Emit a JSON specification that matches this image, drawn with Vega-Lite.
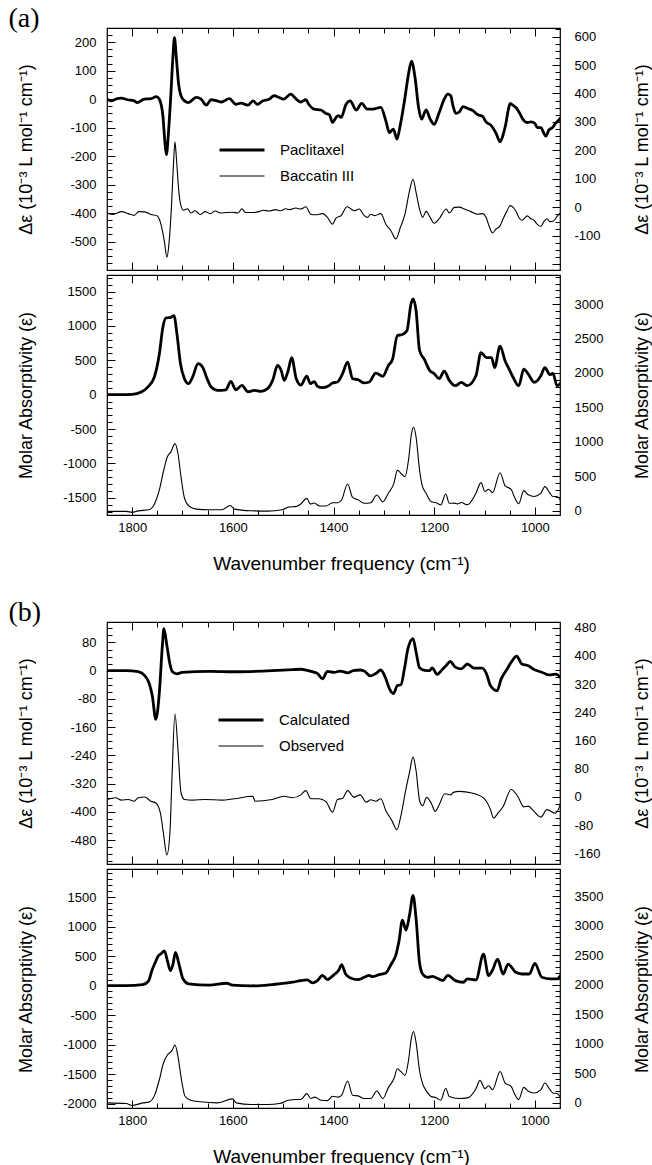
{
"$schema": "https://vega.github.io/schema/vega-lite/v6.json",
"background": "white",
"padding": {"left": 8, "top": 4, "right": 2, "bottom": 0},
"config": {
  "view": {"stroke": "black", "strokeWidth": 1.2},
  "axis": {"domain": false, "grid": false, "labelFont": "Liberation Sans", "labelFontSize": 13, "labelColor": "black", "tickColor": "black", "tickWidth": 1, "titleFont": "Liberation Sans", "titleFontSize": 18, "titleFontWeight": "normal", "titleColor": "black", "labelOverlap": false, "labelFlush": false, "minExtent": 0},
  "legend": {"labelFont": "Liberation Sans", "labelFontSize": 15, "labelColor": "black"}
},
"datasets": {
"aTopThick": [{"x":1850,"y":0},{"x":1842,"y":-6},{"x":1830,"y":2},{"x":1822,"y":4},{"x":1809,"y":-2},{"x":1796,"y":-6},{"x":1790,"y":-12},{"x":1776,"y":0},{"x":1762,"y":2},{"x":1752,"y":9},{"x":1746,"y":0},{"x":1739,"y":-58},{"x":1735,"y":-150},{"x":1732,"y":-195},{"x":1728,"y":-120},{"x":1723,"y":20},{"x":1719,"y":150},{"x":1716,"y":216},{"x":1712,"y":140},{"x":1708,"y":58},{"x":1703,"y":12},{"x":1696,"y":-6},{"x":1688,"y":-12},{"x":1673,"y":6},{"x":1663,"y":0},{"x":1653,"y":-21},{"x":1643,"y":-2},{"x":1633,"y":-5},{"x":1623,"y":-10},{"x":1607,"y":2},{"x":1594,"y":-18},{"x":1584,"y":-14},{"x":1570,"y":-21},{"x":1560,"y":-6},{"x":1551,"y":-18},{"x":1541,"y":-6},{"x":1528,"y":0},{"x":1518,"y":12},{"x":1508,"y":6},{"x":1499,"y":0},{"x":1485,"y":18},{"x":1474,"y":0},{"x":1465,"y":-10},{"x":1455,"y":-2},{"x":1449,"y":-18},{"x":1439,"y":-35},{"x":1425,"y":-38},{"x":1415,"y":-50},{"x":1408,"y":-55},{"x":1402,"y":-82},{"x":1395,"y":-64},{"x":1390,"y":-58},{"x":1385,"y":-64},{"x":1375,"y":-18},{"x":1367,"y":-6},{"x":1355,"y":-38},{"x":1344,"y":-15},{"x":1333,"y":-35},{"x":1322,"y":-35},{"x":1306,"y":-29},{"x":1296,"y":-76},{"x":1289,"y":-117},{"x":1281,"y":-105},{"x":1274,"y":-140},{"x":1267,"y":-88},{"x":1259,"y":-6},{"x":1251,"y":88},{"x":1245,"y":134},{"x":1238,"y":76},{"x":1231,"y":-29},{"x":1225,"y":-70},{"x":1216,"y":-38},{"x":1208,"y":-70},{"x":1200,"y":-88},{"x":1190,"y":-47},{"x":1180,"y":0},{"x":1173,"y":18},{"x":1167,"y":12},{"x":1163,"y":-20},{"x":1157,"y":-50},{"x":1150,"y":-45},{"x":1143,"y":-26},{"x":1133,"y":-33},{"x":1123,"y":-40},{"x":1113,"y":-55},{"x":1104,"y":-60},{"x":1097,"y":-80},{"x":1087,"y":-92},{"x":1077,"y":-120},{"x":1069,"y":-150},{"x":1063,"y":-125},{"x":1058,"y":-90},{"x":1053,"y":-40},{"x":1049,"y":-15},{"x":1043,"y":-22},{"x":1036,"y":-32},{"x":1030,"y":-50},{"x":1022,"y":-75},{"x":1015,"y":-82},{"x":1008,"y":-80},{"x":1000,"y":-85},{"x":995,"y":-100},{"x":988,"y":-100},{"x":982,"y":-120},{"x":978,"y":-130},{"x":972,"y":-108},{"x":965,"y":-100},{"x":959,"y":-85},{"x":953,"y":-75},{"x":947,"y":-62}],
"aTopThin": [{"x":1850,"y":-20},{"x":1838,"y":-25},{"x":1821,"y":-15},{"x":1808,"y":-22},{"x":1796,"y":-28},{"x":1787,"y":-15},{"x":1775,"y":-16},{"x":1763,"y":-25},{"x":1750,"y":-30},{"x":1742,"y":-65},{"x":1736,"y":-120},{"x":1731,"y":-175},{"x":1727,"y":-130},{"x":1722,"y":0},{"x":1718,"y":150},{"x":1715,"y":230},{"x":1712,"y":170},{"x":1707,"y":50},{"x":1703,"y":5},{"x":1698,"y":-10},{"x":1690,"y":-5},{"x":1683,"y":-20},{"x":1675,"y":-12},{"x":1665,"y":-25},{"x":1655,"y":-15},{"x":1645,"y":-22},{"x":1635,"y":-13},{"x":1625,"y":-20},{"x":1612,"y":-18},{"x":1600,"y":-17},{"x":1590,"y":-20},{"x":1582,"y":-5},{"x":1575,"y":-18},{"x":1560,"y":-18},{"x":1548,"y":-15},{"x":1540,"y":-10},{"x":1528,"y":-13},{"x":1515,"y":-8},{"x":1505,"y":-12},{"x":1495,"y":-5},{"x":1487,"y":-8},{"x":1475,"y":-2},{"x":1465,"y":-6},{"x":1455,"y":2},{"x":1445,"y":-24},{"x":1435,"y":-26},{"x":1422,"y":-22},{"x":1412,"y":-35},{"x":1402,"y":-59},{"x":1395,"y":-38},{"x":1385,"y":-29},{"x":1373,"y":2},{"x":1365,"y":-6},{"x":1359,"y":-12},{"x":1349,"y":-6},{"x":1339,"y":-29},{"x":1332,"y":-35},{"x":1326,"y":-24},{"x":1318,"y":-29},{"x":1306,"y":-22},{"x":1296,"y":-59},{"x":1286,"y":-82},{"x":1276,"y":-111},{"x":1267,"y":-70},{"x":1258,"y":-24},{"x":1249,"y":58},{"x":1242,"y":99},{"x":1236,"y":53},{"x":1229,"y":-6},{"x":1223,"y":-35},{"x":1216,"y":-14},{"x":1208,"y":-35},{"x":1200,"y":-56},{"x":1190,"y":-40},{"x":1176,"y":-6},{"x":1170,"y":-20},{"x":1160,"y":0},{"x":1150,"y":1},{"x":1140,"y":-6},{"x":1127,"y":-15},{"x":1113,"y":-24},{"x":1104,"y":-22},{"x":1097,"y":-35},{"x":1090,"y":-70},{"x":1084,"y":-90},{"x":1077,"y":-76},{"x":1069,"y":-65},{"x":1063,"y":-40},{"x":1056,"y":-15},{"x":1049,"y":6},{"x":1043,"y":0},{"x":1038,"y":-12},{"x":1030,"y":-40},{"x":1025,"y":-45},{"x":1019,"y":-35},{"x":1015,"y":-30},{"x":1008,"y":-40},{"x":1002,"y":-45},{"x":995,"y":-60},{"x":988,"y":-67},{"x":982,"y":-50},{"x":976,"y":-40},{"x":970,"y":-50},{"x":963,"y":-48},{"x":955,"y":-30},{"x":947,"y":-15}],
"aBotThick": [{"x":1850,"y":0},{"x":1822,"y":0},{"x":1800,"y":3},{"x":1782,"y":38},{"x":1769,"y":110},{"x":1756,"y":255},{"x":1746,"y":590},{"x":1739,"y":980},{"x":1733,"y":1115},{"x":1723,"y":1125},{"x":1717,"y":1150},{"x":1711,"y":880},{"x":1704,"y":450},{"x":1696,"y":230},{"x":1688,"y":160},{"x":1680,"y":255},{"x":1669,"y":450},{"x":1660,"y":400},{"x":1651,"y":230},{"x":1643,"y":110},{"x":1630,"y":62},{"x":1614,"y":70},{"x":1604,"y":193},{"x":1594,"y":70},{"x":1582,"y":135},{"x":1570,"y":42},{"x":1557,"y":62},{"x":1544,"y":48},{"x":1531,"y":87},{"x":1521,"y":207},{"x":1511,"y":425},{"x":1504,"y":352},{"x":1498,"y":207},{"x":1490,"y":352},{"x":1483,"y":537},{"x":1474,"y":230},{"x":1465,"y":140},{"x":1453,"y":270},{"x":1446,"y":160},{"x":1438,"y":190},{"x":1432,"y":121},{"x":1422,"y":101},{"x":1408,"y":135},{"x":1402,"y":170},{"x":1392,"y":184},{"x":1382,"y":305},{"x":1372,"y":474},{"x":1362,"y":232},{"x":1351,"y":217},{"x":1339,"y":170},{"x":1329,"y":184},{"x":1316,"y":314},{"x":1302,"y":266},{"x":1291,"y":425},{"x":1283,"y":507},{"x":1273,"y":860},{"x":1263,"y":875},{"x":1254,"y":933},{"x":1246,"y":1320},{"x":1242,"y":1392},{"x":1236,"y":1223},{"x":1229,"y":642},{"x":1219,"y":507},{"x":1209,"y":353},{"x":1200,"y":305},{"x":1190,"y":232},{"x":1180,"y":343},{"x":1170,"y":207},{"x":1158,"y":130},{"x":1146,"y":178},{"x":1134,"y":130},{"x":1117,"y":274},{"x":1107,"y":611},{"x":1096,"y":539},{"x":1086,"y":539},{"x":1080,"y":394},{"x":1069,"y":707},{"x":1059,"y":490},{"x":1051,"y":370},{"x":1043,"y":250},{"x":1032,"y":130},{"x":1022,"y":370},{"x":1013,"y":298},{"x":1001,"y":178},{"x":988,"y":274},{"x":980,"y":394},{"x":970,"y":290},{"x":964,"y":310},{"x":956,"y":130},{"x":947,"y":178}],
"aBotThin": [{"x":1850,"y":-13},{"x":1812,"y":-13},{"x":1800,"y":-27},{"x":1788,"y":-5},{"x":1767,"y":11},{"x":1755,"y":107},{"x":1746,"y":300},{"x":1738,"y":564},{"x":1730,"y":781},{"x":1723,"y":853},{"x":1715,"y":973},{"x":1709,"y":829},{"x":1703,"y":492},{"x":1696,"y":179},{"x":1686,"y":59},{"x":1672,"y":21},{"x":1647,"y":11},{"x":1622,"y":11},{"x":1605,"y":74},{"x":1597,"y":21},{"x":1564,"y":-3},{"x":1531,"y":-8},{"x":1502,"y":11},{"x":1490,"y":50},{"x":1473,"y":60},{"x":1465,"y":95},{"x":1453,"y":177},{"x":1446,"y":95},{"x":1438,"y":110},{"x":1428,"y":66},{"x":1415,"y":65},{"x":1402,"y":114},{"x":1391,"y":114},{"x":1384,"y":153},{"x":1372,"y":385},{"x":1362,"y":191},{"x":1351,"y":155},{"x":1339,"y":105},{"x":1326,"y":114},{"x":1314,"y":225},{"x":1302,"y":125},{"x":1291,"y":250},{"x":1280,"y":395},{"x":1273,"y":588},{"x":1266,"y":540},{"x":1258,"y":491},{"x":1251,"y":733},{"x":1245,"y":1120},{"x":1241,"y":1215},{"x":1236,"y":1072},{"x":1229,"y":588},{"x":1224,"y":370},{"x":1216,"y":250},{"x":1206,"y":129},{"x":1196,"y":114},{"x":1187,"y":80},{"x":1177,"y":240},{"x":1170,"y":105},{"x":1160,"y":107},{"x":1154,"y":95},{"x":1146,"y":117},{"x":1134,"y":83},{"x":1117,"y":252},{"x":1107,"y":406},{"x":1099,"y":276},{"x":1092,"y":309},{"x":1084,"y":261},{"x":1069,"y":550},{"x":1059,"y":357},{"x":1047,"y":309},{"x":1041,"y":204},{"x":1032,"y":98},{"x":1022,"y":290},{"x":1013,"y":228},{"x":1001,"y":204},{"x":988,"y":252},{"x":980,"y":348},{"x":970,"y":252},{"x":964,"y":204},{"x":956,"y":204},{"x":947,"y":117}],
"bTopThick": [{"x":1850,"y":0},{"x":1812,"y":0},{"x":1788,"y":-3},{"x":1775,"y":-14},{"x":1767,"y":-33},{"x":1760,"y":-71},{"x":1753,"y":-138},{"x":1746,"y":-62},{"x":1740,"y":71},{"x":1737,"y":119},{"x":1731,"y":71},{"x":1725,"y":19},{"x":1720,"y":-3},{"x":1711,"y":-9},{"x":1701,"y":-5},{"x":1647,"y":-2},{"x":1597,"y":-3},{"x":1522,"y":0},{"x":1481,"y":3},{"x":1465,"y":4},{"x":1452,"y":1},{"x":1439,"y":-4},{"x":1431,"y":-9},{"x":1422,"y":-23},{"x":1412,"y":-2},{"x":1399,"y":-5},{"x":1387,"y":-1},{"x":1372,"y":-6},{"x":1361,"y":0},{"x":1347,"y":2},{"x":1338,"y":-2},{"x":1327,"y":-15},{"x":1316,"y":-8},{"x":1306,"y":2},{"x":1296,"y":-23},{"x":1289,"y":-51},{"x":1281,"y":-65},{"x":1273,"y":-42},{"x":1266,"y":-40},{"x":1259,"y":6},{"x":1252,"y":63},{"x":1242,"y":91},{"x":1236,"y":53},{"x":1229,"y":8},{"x":1219,"y":1},{"x":1209,"y":0},{"x":1204,"y":8},{"x":1194,"y":-11},{"x":1186,"y":0},{"x":1176,"y":15},{"x":1168,"y":26},{"x":1158,"y":10},{"x":1146,"y":5},{"x":1134,"y":19},{"x":1121,"y":7},{"x":1105,"y":7},{"x":1096,"y":-9},{"x":1088,"y":-43},{"x":1075,"y":-57},{"x":1067,"y":-24},{"x":1055,"y":5},{"x":1047,"y":24},{"x":1036,"y":41},{"x":1026,"y":19},{"x":1013,"y":14},{"x":1001,"y":3},{"x":985,"y":-5},{"x":972,"y":-12},{"x":959,"y":-10},{"x":947,"y":-22}],
"bTopThin": [{"x":1850,"y":-7},{"x":1833,"y":-2},{"x":1821,"y":-9},{"x":1808,"y":-7},{"x":1796,"y":-12},{"x":1788,"y":-2},{"x":1775,"y":0},{"x":1763,"y":-12},{"x":1753,"y":-17},{"x":1744,"y":-45},{"x":1738,"y":-102},{"x":1731,"y":-164},{"x":1725,"y":-102},{"x":1721,"y":50},{"x":1715,"y":235},{"x":1709,"y":135},{"x":1703,"y":12},{"x":1696,"y":-7},{"x":1680,"y":-9},{"x":1655,"y":-7},{"x":1622,"y":-9},{"x":1597,"y":-5},{"x":1560,"y":2},{"x":1556,"y":-12},{"x":1522,"y":-7},{"x":1498,"y":2},{"x":1481,"y":-2},{"x":1465,"y":6},{"x":1455,"y":18},{"x":1445,"y":-5},{"x":1429,"y":-5},{"x":1415,"y":-13},{"x":1402,"y":-43},{"x":1392,"y":-7},{"x":1382,"y":-4},{"x":1372,"y":18},{"x":1359,"y":-1},{"x":1347,"y":6},{"x":1335,"y":-15},{"x":1326,"y":-8},{"x":1316,"y":-12},{"x":1306,"y":-5},{"x":1296,"y":-39},{"x":1284,"y":-67},{"x":1274,"y":-93},{"x":1266,"y":-53},{"x":1256,"y":23},{"x":1249,"y":70},{"x":1242,"y":113},{"x":1236,"y":75},{"x":1229,"y":-10},{"x":1223,"y":-25},{"x":1215,"y":-1},{"x":1206,"y":-17},{"x":1198,"y":-41},{"x":1190,"y":-22},{"x":1179,"y":9},{"x":1167,"y":6},{"x":1162,"y":13},{"x":1150,"y":16},{"x":1125,"y":11},{"x":1101,"y":-4},{"x":1088,"y":-36},{"x":1082,"y":-60},{"x":1074,"y":-47},{"x":1063,"y":-27},{"x":1047,"y":21},{"x":1034,"y":2},{"x":1022,"y":-28},{"x":1013,"y":-26},{"x":1005,"y":-36},{"x":988,"y":-57},{"x":976,"y":-36},{"x":959,"y":-46},{"x":947,"y":-12}],
"bBotThick": [{"x":1850,"y":0},{"x":1812,"y":0},{"x":1779,"y":17},{"x":1767,"y":84},{"x":1761,"y":252},{"x":1754,"y":392},{"x":1748,"y":504},{"x":1742,"y":543},{"x":1736,"y":588},{"x":1730,"y":420},{"x":1724,"y":252},{"x":1719,"y":360},{"x":1714,"y":560},{"x":1707,"y":364},{"x":1699,"y":112},{"x":1688,"y":28},{"x":1647,"y":6},{"x":1612,"y":39},{"x":1601,"y":6},{"x":1564,"y":-6},{"x":1522,"y":17},{"x":1481,"y":56},{"x":1465,"y":84},{"x":1452,"y":95},{"x":1442,"y":45},{"x":1432,"y":84},{"x":1422,"y":174},{"x":1412,"y":101},{"x":1399,"y":185},{"x":1389,"y":269},{"x":1384,"y":353},{"x":1376,"y":196},{"x":1366,"y":129},{"x":1352,"y":101},{"x":1339,"y":140},{"x":1329,"y":174},{"x":1323,"y":150},{"x":1309,"y":185},{"x":1296,"y":213},{"x":1286,"y":353},{"x":1276,"y":521},{"x":1270,"y":746},{"x":1263,"y":1109},{"x":1256,"y":941},{"x":1249,"y":1193},{"x":1242,"y":1529},{"x":1236,"y":1137},{"x":1229,"y":381},{"x":1223,"y":196},{"x":1213,"y":140},{"x":1203,"y":157},{"x":1193,"y":118},{"x":1183,"y":84},{"x":1173,"y":174},{"x":1158,"y":84},{"x":1142,"y":56},{"x":1134,"y":112},{"x":1117,"y":95},{"x":1102,"y":532},{"x":1092,"y":168},{"x":1084,"y":263},{"x":1074,"y":448},{"x":1063,"y":196},{"x":1053,"y":364},{"x":1038,"y":224},{"x":1026,"y":196},{"x":1011,"y":196},{"x":1000,"y":375},{"x":986,"y":140},{"x":968,"y":112},{"x":956,"y":112},{"x":947,"y":196}],
"bBotThin": [{"x":1850,"y":-3},{"x":1812,"y":-15},{"x":1800,"y":-48},{"x":1779,"y":-3},{"x":1767,"y":9},{"x":1755,"y":137},{"x":1746,"y":389},{"x":1738,"y":669},{"x":1730,"y":809},{"x":1721,"y":882},{"x":1715,"y":977},{"x":1709,"y":781},{"x":1702,"y":389},{"x":1695,"y":109},{"x":1684,"y":42},{"x":1664,"y":15},{"x":1631,"y":-3},{"x":1601,"y":64},{"x":1593,"y":-3},{"x":1564,"y":-31},{"x":1531,"y":-31},{"x":1507,"y":-15},{"x":1490,"y":42},{"x":1473,"y":53},{"x":1465,"y":53},{"x":1453,"y":154},{"x":1445,"y":70},{"x":1437,"y":95},{"x":1425,"y":42},{"x":1412,"y":35},{"x":1402,"y":109},{"x":1391,"y":95},{"x":1384,"y":125},{"x":1372,"y":367},{"x":1362,"y":125},{"x":1351,"y":115},{"x":1339,"y":70},{"x":1326,"y":70},{"x":1314,"y":199},{"x":1302,"y":70},{"x":1291,"y":255},{"x":1280,"y":406},{"x":1273,"y":574},{"x":1266,"y":525},{"x":1258,"y":463},{"x":1251,"y":715},{"x":1245,"y":1106},{"x":1241,"y":1207},{"x":1236,"y":1022},{"x":1229,"y":541},{"x":1223,"y":322},{"x":1216,"y":205},{"x":1206,"y":105},{"x":1196,"y":85},{"x":1187,"y":42},{"x":1177,"y":244},{"x":1170,"y":105},{"x":1150,"y":70},{"x":1134,"y":81},{"x":1117,"y":237},{"x":1109,"y":378},{"x":1099,"y":237},{"x":1092,"y":288},{"x":1084,"y":221},{"x":1069,"y":529},{"x":1059,"y":333},{"x":1047,"y":277},{"x":1041,"y":165},{"x":1032,"y":53},{"x":1022,"y":260},{"x":1013,"y":193},{"x":1001,"y":165},{"x":988,"y":221},{"x":980,"y":333},{"x":970,"y":221},{"x":964,"y":165},{"x":956,"y":154},{"x":947,"y":64}]
},
"spacing": 24,
"resolve": {"scale": {"strokeWidth": "independent"}, "legend": {"strokeWidth": "independent"}},
"vconcat": [
{
 "title": {"text": "(a)", "anchor": "start", "frame": "bounds", "font": "Liberation Serif", "fontSize": 28, "fontWeight": "normal", "color": "black", "offset": -6, "dx": -8},
 "spacing": 1,
 "vconcat": [
  {
   "width": 453, "height": 242,
   "resolve": {"scale": {"y": "independent"}, "axis": {"x": "independent"}},
   "layer": [
    {"data": {"name": "aTopThick"},
     "mark": {"type": "line", "color": "black", "clip": true, "interpolate": "monotone"},
     "encoding": {
      "x": {"field": "x", "type": "quantitative", "scale": {"domain": [950, 1850], "reverse": true, "nice": false, "zero": false},
            "axis": {"orient": "bottom", "values": [1000,1050,1100,1150,1200,1250,1300,1350,1400,1450,1500,1550,1600,1650,1700,1750,1800], "labels": false, "title": null, "tickSize": {"condition": {"test": "datum.value % 200 === 0", "value": -8}, "value": -5}}},
      "y": {"field": "y", "type": "quantitative", "scale": {"domain": [-600, 250], "nice": false, "zero": false},
            "axis": {"orient": "left", "title": "Δε (10⁻³ L mol⁻¹ cm⁻¹)", "values": [-575,-550,-525,-500,-475,-450,-425,-400,-375,-350,-325,-300,-275,-250,-225,-200,-175,-150,-125,-100,-75,-50,-25,0,25,50,75,100,125,150,175,200,225], "labelExpr": "datum.value % 100 === 0 ? toString(datum.value) : ''", "labelFontSize": {"condition": {"test": "datum.value % 100 === 0", "value": 13}, "value": 0}, "tickSize": {"condition": {"test": "datum.value % 100 === 0", "value": -8}, "value": -5}, "labelPadding": 19, "titleX": -81, "titleY": 121, "titleAngle": 270, "titleAlign": "center", "titleBaseline": "middle"}},
      "strokeWidth": {"datum": "Paclitaxel", "type": "ordinal", "scale": {"type": "ordinal", "domain": ["Paclitaxel", "Baccatin III"], "range": [2.8, 1.1]},
            "legend": {"orient": "none", "legendX": 122, "legendY": 109, "title": null, "symbolType": "M-2,0H2", "symbolSize": 506, "symbolStrokeColor": "black", "symbolFillColor": "transparent", "labelOffset": 25, "rowPadding": 6, "padding": 0}}
     }},
    {"data": {"name": "aTopThin"},
     "mark": {"type": "line", "color": "black", "clip": true, "interpolate": "monotone"},
     "encoding": {
      "x": {"field": "x", "type": "quantitative", "scale": {"domain": [950, 1850], "reverse": true, "nice": false, "zero": false},
            "axis": {"orient": "top", "values": [1000,1050,1100,1150,1200,1250,1300,1350,1400,1450,1500,1550,1600,1650,1700,1750,1800], "labels": false, "title": null, "tickSize": {"condition": {"test": "datum.value % 200 === 0", "value": -8}, "value": -5}}},
      "y": {"field": "y", "type": "quantitative", "scale": {"domain": [-220, 630], "nice": false, "zero": false},
            "axis": {"orient": "right", "title": "Δε (10⁻³ L mol⁻¹ cm⁻¹)", "values": [-200,-175,-150,-125,-100,-75,-50,-25,0,25,50,75,100,125,150,175,200,225,250,275,300,325,350,375,400,425,450,475,500,525,550,575,600,625], "labelExpr": "datum.value % 100 === 0 && datum.value > -200 ? toString(datum.value) : ''", "labelFontSize": {"condition": {"test": "datum.value % 100 === 0 && datum.value > -200", "value": 13}, "value": 0}, "tickSize": {"condition": {"test": "datum.value % 100 === 0", "value": -8}, "value": -5}, "labelPadding": 22, "titleX": 82, "titleY": 121, "titleAngle": 270, "titleAlign": "center", "titleBaseline": "middle"}},
      "strokeWidth": {"datum": "Baccatin III", "type": "ordinal", "scale": {"type": "ordinal", "domain": ["Paclitaxel", "Baccatin III"], "range": [2.8, 1.1]},
            "legend": {"orient": "none", "legendX": 122, "legendY": 109, "title": null, "symbolType": "M-2,0H2", "symbolSize": 506, "symbolStrokeColor": "black", "symbolFillColor": "transparent", "labelOffset": 25, "rowPadding": 6, "padding": 0}}
     }}
   ]
  },
  {
   "width": 453, "height": 240,
   "resolve": {"scale": {"y": "independent"}, "axis": {"x": "independent"}},
   "layer": [
    {"data": {"name": "aBotThick"},
     "mark": {"type": "line", "color": "black", "clip": true, "interpolate": "monotone", "strokeWidth": 2.8},
     "encoding": {
      "x": {"field": "x", "type": "quantitative", "scale": {"domain": [950, 1850], "reverse": true, "nice": false, "zero": false},
            "axis": {"orient": "bottom", "values": [1000,1050,1100,1150,1200,1250,1300,1350,1400,1450,1500,1550,1600,1650,1700,1750,1800], "labelExpr": "datum.value % 200 === 0 ? toString(datum.value) : ''", "labelFontSize": {"condition": {"test": "datum.value % 200 === 0", "value": 13}, "value": 0}, "tickSize": {"condition": {"test": "datum.value % 200 === 0", "value": -8}, "value": -5}, "labelPadding": 14, "title": "Wavenumber frequency (cm⁻¹)", "titleFontSize": 19, "titleX": 234, "titleY": 48, "titleAlign": "center", "titleBaseline": "middle"}},
      "y": {"field": "y", "type": "quantitative", "scale": {"domain": [-1750, 1740], "nice": false, "zero": false},
            "axis": {"orient": "left", "title": "Molar Absorptivity (ε)", "values": [-1700,-1600,-1500,-1400,-1300,-1200,-1100,-1000,-900,-800,-700,-600,-500,-400,-300,-200,-100,0,100,200,300,400,500,600,700,800,900,1000,1100,1200,1300,1400,1500,1600,1700], "labelExpr": "datum.value % 500 === 0 ? toString(datum.value) : ''", "labelFontSize": {"condition": {"test": "datum.value % 500 === 0", "value": 13}, "value": 0}, "tickSize": {"condition": {"test": "datum.value % 500 === 0", "value": -8}, "value": -5}, "labelPadding": 19, "titleX": -81, "titleY": 120, "titleAngle": 270, "titleAlign": "center", "titleBaseline": "middle"}}
     }},
    {"data": {"name": "aBotThin"},
     "mark": {"type": "line", "color": "black", "clip": true, "interpolate": "monotone", "strokeWidth": 1.1},
     "encoding": {
      "x": {"field": "x", "type": "quantitative", "scale": {"domain": [950, 1850], "reverse": true, "nice": false, "zero": false},
            "axis": {"orient": "top", "values": [1000,1050,1100,1150,1200,1250,1300,1350,1400,1450,1500,1550,1600,1650,1700,1750,1800], "labels": false, "title": null, "tickSize": {"condition": {"test": "datum.value % 200 === 0", "value": -8}, "value": -5}}},
      "y": {"field": "y", "type": "quantitative", "scale": {"domain": [-65, 3425], "nice": false, "zero": false},
            "axis": {"orient": "right", "title": "Molar Absorptivity (ε)", "values": [0,100,200,300,400,500,600,700,800,900,1000,1100,1200,1300,1400,1500,1600,1700,1800,1900,2000,2100,2200,2300,2400,2500,2600,2700,2800,2900,3000,3100,3200,3300,3400], "labelExpr": "datum.value % 500 === 0 ? toString(datum.value) : ''", "labelFontSize": {"condition": {"test": "datum.value % 500 === 0", "value": 13}, "value": 0}, "tickSize": {"condition": {"test": "datum.value % 500 === 0", "value": -8}, "value": -5}, "labelPadding": 22, "titleX": 82, "titleY": 120, "titleAngle": 270, "titleAlign": "center", "titleBaseline": "middle"}}
     }}
   ]
  }
 ]
},
{
 "title": {"text": "(b)", "anchor": "start", "frame": "bounds", "font": "Liberation Serif", "fontSize": 28, "fontWeight": "normal", "color": "black", "offset": -6, "dx": -8},
 "spacing": 1,
 "vconcat": [
  {
   "width": 453, "height": 242,
   "resolve": {"scale": {"y": "independent"}, "axis": {"x": "independent"}},
   "layer": [
    {"data": {"name": "bTopThick"},
     "mark": {"type": "line", "color": "black", "clip": true, "interpolate": "monotone"},
     "encoding": {
      "x": {"field": "x", "type": "quantitative", "scale": {"domain": [950, 1850], "reverse": true, "nice": false, "zero": false},
            "axis": {"orient": "bottom", "values": [1000,1050,1100,1150,1200,1250,1300,1350,1400,1450,1500,1550,1600,1650,1700,1750,1800], "labels": false, "title": null, "tickSize": {"condition": {"test": "datum.value % 200 === 0", "value": -8}, "value": -5}}},
      "y": {"field": "y", "type": "quantitative", "scale": {"domain": [-548, 138], "nice": false, "zero": false},
            "axis": {"orient": "left", "title": "Δε (10⁻³ L mol⁻¹ cm⁻¹)", "values": [-540,-520,-500,-480,-460,-440,-420,-400,-380,-360,-340,-320,-300,-280,-260,-240,-220,-200,-180,-160,-140,-120,-100,-80,-60,-40,-20,0,20,40,60,80,100,120], "labelExpr": "datum.value % 80 === 0 ? toString(datum.value) : ''", "labelFontSize": {"condition": {"test": "datum.value % 80 === 0", "value": 13}, "value": 0}, "tickSize": {"condition": {"test": "datum.value % 80 === 0", "value": -8}, "value": -5}, "labelPadding": 19, "titleX": -81, "titleY": 121, "titleAngle": 270, "titleAlign": "center", "titleBaseline": "middle"}},
      "strokeWidth": {"datum": "Calculated", "type": "ordinal", "scale": {"type": "ordinal", "domain": ["Calculated", "Observed"], "range": [2.8, 1.1]},
            "legend": {"orient": "none", "legendX": 121, "legendY": 85, "title": null, "symbolType": "M-2,0H2", "symbolSize": 506, "symbolStrokeColor": "black", "symbolFillColor": "transparent", "labelOffset": 25, "rowPadding": 6, "padding": 0}}
     }},
    {"data": {"name": "bTopThin"},
     "mark": {"type": "line", "color": "black", "clip": true, "interpolate": "monotone"},
     "encoding": {
      "x": {"field": "x", "type": "quantitative", "scale": {"domain": [950, 1850], "reverse": true, "nice": false, "zero": false},
            "axis": {"orient": "top", "values": [1000,1050,1100,1150,1200,1250,1300,1350,1400,1450,1500,1550,1600,1650,1700,1750,1800], "labels": false, "title": null, "tickSize": {"condition": {"test": "datum.value % 200 === 0", "value": -8}, "value": -5}}},
      "y": {"field": "y", "type": "quantitative", "scale": {"domain": [-190, 496], "nice": false, "zero": false},
            "axis": {"orient": "right", "title": "Δε (10⁻³ L mol⁻¹ cm⁻¹)", "values": [-180,-160,-140,-120,-100,-80,-60,-40,-20,0,20,40,60,80,100,120,140,160,180,200,220,240,260,280,300,320,340,360,380,400,420,440,460,480], "labelExpr": "datum.value % 80 === 0 ? toString(datum.value) : ''", "labelFontSize": {"condition": {"test": "datum.value % 80 === 0", "value": 13}, "value": 0}, "tickSize": {"condition": {"test": "datum.value % 80 === 0", "value": -8}, "value": -5}, "labelPadding": 22, "titleX": 82, "titleY": 121, "titleAngle": 270, "titleAlign": "center", "titleBaseline": "middle"}},
      "strokeWidth": {"datum": "Observed", "type": "ordinal", "scale": {"type": "ordinal", "domain": ["Calculated", "Observed"], "range": [2.8, 1.1]},
            "legend": {"orient": "none", "legendX": 121, "legendY": 85, "title": null, "symbolType": "M-2,0H2", "symbolSize": 506, "symbolStrokeColor": "black", "symbolFillColor": "transparent", "labelOffset": 25, "rowPadding": 6, "padding": 0}}
     }}
   ]
  },
  {
   "width": 453, "height": 239,
   "resolve": {"scale": {"y": "independent"}, "axis": {"x": "independent"}},
   "layer": [
    {"data": {"name": "bBotThick"},
     "mark": {"type": "line", "color": "black", "clip": true, "interpolate": "monotone", "strokeWidth": 2.8},
     "encoding": {
      "x": {"field": "x", "type": "quantitative", "scale": {"domain": [950, 1850], "reverse": true, "nice": false, "zero": false},
            "axis": {"orient": "bottom", "values": [1000,1050,1100,1150,1200,1250,1300,1350,1400,1450,1500,1550,1600,1650,1700,1750,1800], "labelExpr": "datum.value % 200 === 0 ? toString(datum.value) : ''", "labelFontSize": {"condition": {"test": "datum.value % 200 === 0", "value": 13}, "value": 0}, "tickSize": {"condition": {"test": "datum.value % 200 === 0", "value": -8}, "value": -5}, "labelPadding": 14, "title": "Wavenumber frequency (cm⁻¹)", "titleFontSize": 19, "titleX": 234, "titleY": 48, "titleAlign": "center", "titleBaseline": "middle"}},
      "y": {"field": "y", "type": "quantitative", "scale": {"domain": [-2075, 1975], "nice": false, "zero": false},
            "axis": {"orient": "left", "title": "Molar Absorptivity (ε)", "values": [-2000,-1900,-1800,-1700,-1600,-1500,-1400,-1300,-1200,-1100,-1000,-900,-800,-700,-600,-500,-400,-300,-200,-100,0,100,200,300,400,500,600,700,800,900,1000,1100,1200,1300,1400,1500,1600,1700,1800,1900], "labelExpr": "datum.value % 500 === 0 ? toString(datum.value) : ''", "labelFontSize": {"condition": {"test": "datum.value % 500 === 0", "value": 13}, "value": 0}, "tickSize": {"condition": {"test": "datum.value % 500 === 0", "value": -8}, "value": -5}, "labelPadding": 19, "titleX": -81, "titleY": 120, "titleAngle": 270, "titleAlign": "center", "titleBaseline": "middle"}}
     }},
    {"data": {"name": "bBotThin"},
     "mark": {"type": "line", "color": "black", "clip": true, "interpolate": "monotone", "strokeWidth": 1.1},
     "encoding": {
      "x": {"field": "x", "type": "quantitative", "scale": {"domain": [950, 1850], "reverse": true, "nice": false, "zero": false},
            "axis": {"orient": "top", "values": [1000,1050,1100,1150,1200,1250,1300,1350,1400,1450,1500,1550,1600,1650,1700,1750,1800], "labels": false, "title": null, "tickSize": {"condition": {"test": "datum.value % 200 === 0", "value": -8}, "value": -5}}},
      "y": {"field": "y", "type": "quantitative", "scale": {"domain": [-90, 3960], "nice": false, "zero": false},
            "axis": {"orient": "right", "title": "Molar Absorptivity (ε)", "values": [0,100,200,300,400,500,600,700,800,900,1000,1100,1200,1300,1400,1500,1600,1700,1800,1900,2000,2100,2200,2300,2400,2500,2600,2700,2800,2900,3000,3100,3200,3300,3400,3500,3600,3700,3800,3900], "labelExpr": "datum.value % 500 === 0 ? toString(datum.value) : ''", "labelFontSize": {"condition": {"test": "datum.value % 500 === 0", "value": 13}, "value": 0}, "tickSize": {"condition": {"test": "datum.value % 500 === 0", "value": -8}, "value": -5}, "labelPadding": 22, "titleX": 82, "titleY": 120, "titleAngle": 270, "titleAlign": "center", "titleBaseline": "middle"}}
     }}
   ]
  }
 ]
}
]
}
